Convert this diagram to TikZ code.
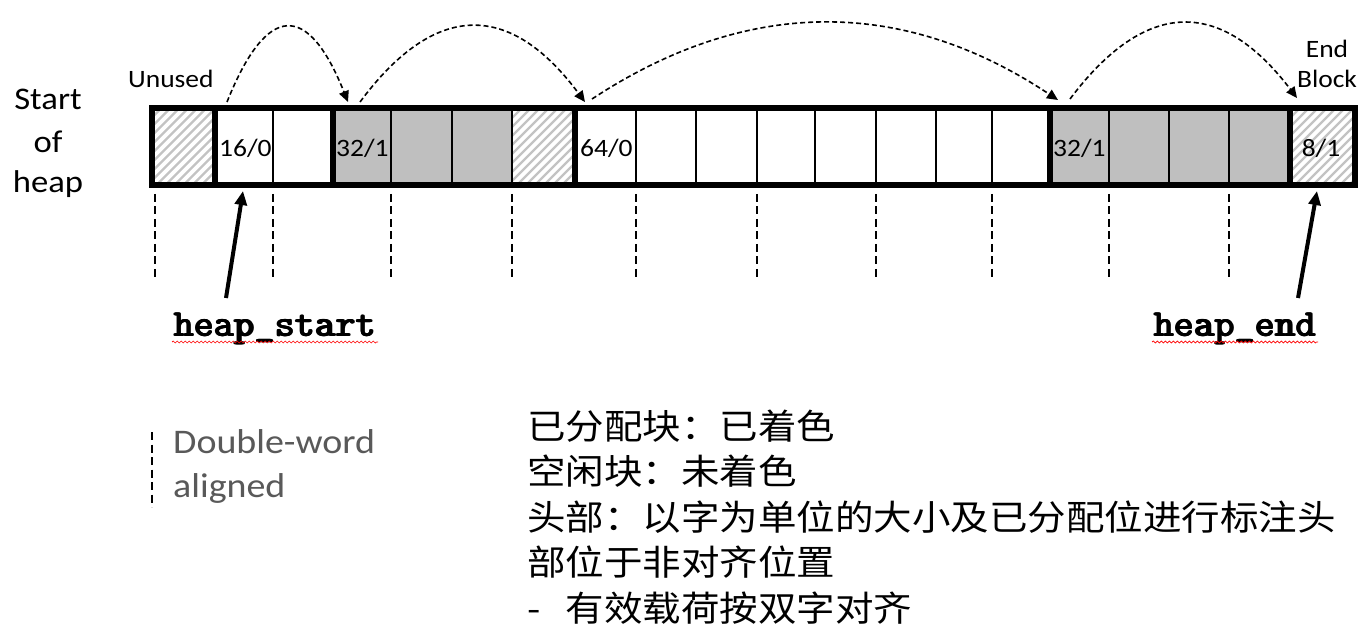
\documentclass[tikz,border=0pt]{standalone}
\usepackage{fontspec}
\setmainfont{Carlito}[FakeStretch=1.1]
\newfontfamily\cjkfont{Noto Sans CJK SC}[FakeStretch=1.1]
\usetikzlibrary{arrows.meta,decorations.pathmorphing}
\definecolor{cellgray}{RGB}{191,191,191}
\definecolor{hatchgray}{RGB}{195,195,195}
\definecolor{textgray}{RGB}{89,89,89}
\newcommand\heavytext[1]{\rlap{#1}\rlap{\hspace{0.7pt}\raisebox{0.5pt}{#1}}\hspace{1.2pt}#1}
\begin{document}
\begin{tikzpicture}[x=1pt,y=-1pt,
  lab/.style={inner sep=0pt, font=\fontsize{25}{30}\selectfont},
  biglab/.style={inner sep=0pt, font=\fontsize{31.5}{36}\selectfont},
  midlab/.style={inner sep=0pt, font=\fontsize{25}{30}\selectfont},
  legend/.style={inner sep=0pt, text=textgray, font=\fontsize{34.5}{40}\selectfont},
  code/.style={inner sep=0pt, font=\ttfamily\bfseries\fontsize{38.5}{44}\selectfont},
  cjk/.style={inner sep=0pt, font=\cjkfont\fontsize{35}{42}\selectfont},
  hatchline/.style={line width=2.2pt, draw=hatchgray},
  thin/.style={line width=2pt},
  thick/.style={line width=6pt},
  aligndash/.style={line width=2.6pt, dash pattern=on 8pt off 4.5pt},
  link/.style={line width=1.6pt, dash pattern=on 5pt off 3pt, -{Triangle[length=11pt,width=10pt]}},
  ptr/.style={line width=4pt, -{Triangle[length=14pt,width=12pt]}},
  squiggle/.style={draw=red, line width=0.7pt, decorate, decoration={snake, segment length=4pt, amplitude=1pt}}
]
\useasboundingbox[fill=white] (0,0) rectangle (1368,636);

% --- fills ---
\fill[cellgray] (333,108) rectangle (512,185);
\fill[cellgray] (1050,108) rectangle (1290,185);
\foreach \a/\b in {151.5/215, 512/575, 1290/1355}{
  \begin{scope}
    \clip (\a,108) rectangle (\b,185);
    \foreach \k in {-10,...,10}
      \draw[hatchline] (\a+\k*9,190) -- ++(90,-90);
  \end{scope}
}

% --- dividers and outline ---
\foreach \x in {273,391,452,512,636,696,757,815,876,936,992,1109,1169,1229}
  \draw[thin] (\x,108) -- (\x,185);
\foreach \x in {215,333,575,1050,1290}
  \draw[thick] (\x,108) -- (\x,185);
\draw[thick] (151.5,108) rectangle (1355,185);

% --- cell labels ---
\node[lab, anchor=base west] (c16) at (219,157) {16/0};
\node[lab, anchor=base west] (c32a) at (336,157) {32/1};
\node[lab, anchor=base west] (c64) at (580,157) {64/0};
\node[lab, anchor=base west] (c32b) at (1053,157) {32/1};
\node[lab, anchor=base] (c8) at (1321,157) {8/1};

% --- side labels ---
\node[biglab, anchor=base] (st1) at (48,110) {Start};
\node[biglab, anchor=base] (st2) at (48,153) {of};
\node[biglab, anchor=base] (st3) at (48,193) {heap};
\node[midlab, anchor=base west] (unused) at (128,88) {Unused};
\node[midlab, anchor=base] (end1) at (1327,58) {End};
\node[midlab, anchor=base] (end2) at (1327,88) {Block};

% --- dashed links ---
\coordinate (l1s) at (227,102); \coordinate (l1e) at (348,102);
\coordinate (l2s) at (360,102); \coordinate (l2e) at (585,102);
\coordinate (l3s) at (592,99);  \coordinate (l3e) at (1058,100);
\coordinate (l4s) at (1070,99); \coordinate (l4e) at (1297,98);
\draw[link] (l1s) .. controls (267,2) and (308,2) .. (l1e);
\draw[link] (l2s) .. controls (435,1) and (510,1) .. (l2e);
\draw[link] (l3s) .. controls (747,-3) and (903,-3) .. (l3e);
\draw[link] (l4s) .. controls (1146,-2) and (1221,-2) .. (l4e);

% --- double-word alignment marks ---
\foreach \x in {155,273,391,512,636,757,876,992,1109,1229}
  \draw[aligndash] (\x,194) -- (\x,278);

% --- pointers ---
\node[code, anchor=base] (hs) at (275,337) {\heavytext{heap\_start}};
\node[code, anchor=base] (he) at (1235,337) {\heavytext{heap\_end}};
\coordinate (hsT) at (243,191); \coordinate (hsB) at (226,298);
\coordinate (heT) at (1317,191); \coordinate (heB) at (1298,298);
\draw[ptr] (hsB) -- (hsT);
\draw[ptr] (heB) -- (heT);
\draw[squiggle] (172,342) -- (378,342);
\draw[squiggle] (1152,342) -- (1318,342);

% --- legend ---
\draw[aligndash] (152,432) -- (152,507);
\node[legend, anchor=base west] (dw1) at (173,453) {Double-word};
\node[legend, anchor=base west] (dw2) at (173,497) {aligned};

% --- notes ---
\node[cjk, anchor=base west] (n1) at (527,439) {已分配块：已着色};
\node[cjk, anchor=base west] (n2) at (527,484) {空闲块：未着色};
\node[cjk, anchor=base west] (n3) at (527,530) {头部：以字为单位的大小及已分配位进行标注头};
\node[cjk, anchor=base west] (n4) at (527,575) {部位于非对齐位置};
\node[cjk, anchor=base west] (n5) at (527,621) {-\hspace{25pt}有效载荷按双字对齐};
\end{tikzpicture}
\end{document}
